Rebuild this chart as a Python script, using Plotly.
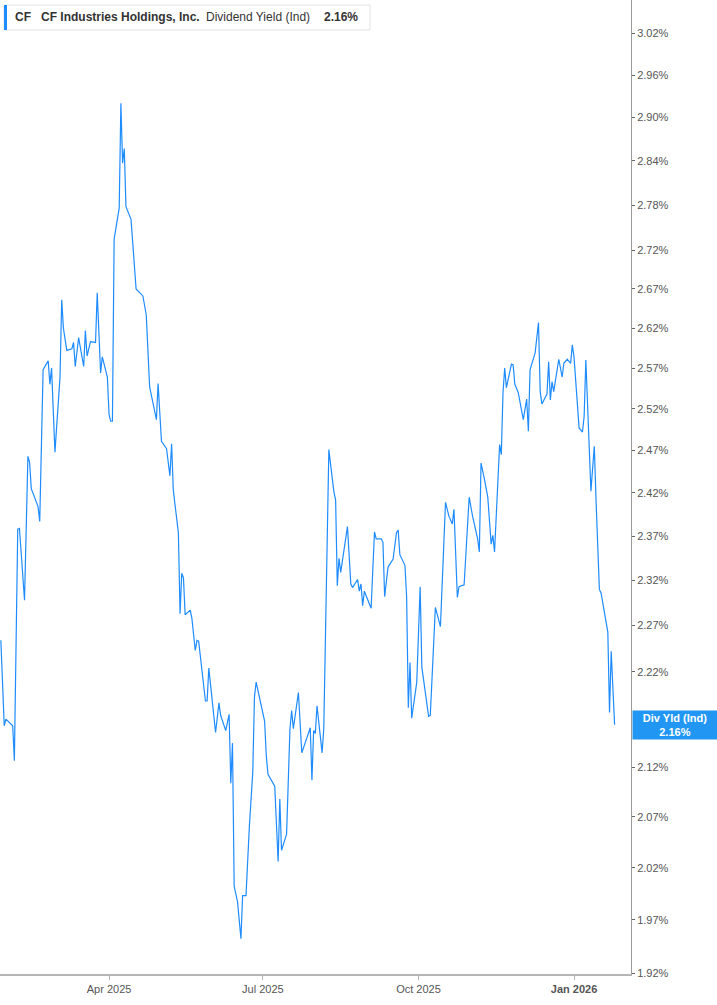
import math
import plotly.graph_objects as go

# Dividend yield (indicated) for CF Industries
dates = [
    "2025-01-27", "2025-01-29", "2025-01-30", "2025-02-03", "2025-02-04", "2025-02-06",
    "2025-02-07", "2025-02-10", "2025-02-12", "2025-02-13", "2025-02-14", "2025-02-18",
    "2025-02-19", "2025-02-21", "2025-02-24", "2025-02-25", "2025-02-26", "2025-02-28",
    "2025-03-03", "2025-03-04", "2025-03-05", "2025-03-07", "2025-03-10", "2025-03-11",
    "2025-03-12", "2025-03-14", "2025-03-17", "2025-03-18", "2025-03-19", "2025-03-21",
    "2025-03-24", "2025-03-25", "2025-03-27", "2025-03-28", "2025-03-31", "2025-04-01",
    "2025-04-02", "2025-04-03", "2025-04-04", "2025-04-07", "2025-04-08", "2025-04-09",
    "2025-04-10", "2025-04-11", "2025-04-14", "2025-04-17", "2025-04-21", "2025-04-23",
    "2025-04-25", "2025-04-29", "2025-04-30", "2025-05-02", "2025-05-05", "2025-05-07",
    "2025-05-08", "2025-05-09", "2025-05-12", "2025-05-13", "2025-05-14", "2025-05-15",
    "2025-05-16", "2025-05-19", "2025-05-20", "2025-05-22", "2025-05-23", "2025-05-24",
    "2025-05-28", "2025-05-29", "2025-05-30", "2025-06-03", "2025-06-05", "2025-06-06",
    "2025-06-09", "2025-06-11", "2025-06-12", "2025-06-13", "2025-06-14", "2025-06-16",
    "2025-06-18", "2025-06-19", "2025-06-21", "2025-06-23", "2025-06-25", "2025-06-26",
    "2025-06-27", "2025-06-30", "2025-07-02", "2025-07-03", "2025-07-04", "2025-07-08",
    "2025-07-10", "2025-07-11", "2025-07-12", "2025-07-15", "2025-07-17", "2025-07-18",
    "2025-07-19", "2025-07-22", "2025-07-24", "2025-07-29", "2025-07-30", "2025-07-31",
    "2025-08-01", "2025-08-02", "2025-08-05", "2025-08-06", "2025-08-09", "2025-08-12",
    "2025-08-13", "2025-08-14", "2025-08-15", "2025-08-16", "2025-08-20", "2025-08-22",
    "2025-08-23", "2025-08-26", "2025-08-27", "2025-08-28", "2025-08-29", "2025-08-30",
    "2025-09-03", "2025-09-05", "2025-09-06", "2025-09-09", "2025-09-10", "2025-09-11",
    "2025-09-13", "2025-09-16", "2025-09-18", "2025-09-19", "2025-09-20", "2025-09-23",
    "2025-09-24", "2025-09-25", "2025-09-26", "2025-09-27", "2025-09-30", "2025-10-02",
    "2025-10-03", "2025-10-07", "2025-10-08", "2025-10-11", "2025-10-14", "2025-10-17",
    "2025-10-19", "2025-10-21", "2025-10-22", "2025-10-24", "2025-10-25", "2025-10-28",
    "2025-10-31", "2025-11-02", "2025-11-05", "2025-11-06", "2025-11-07", "2025-11-09",
    "2025-11-11", "2025-11-13", "2025-11-14", "2025-11-15", "2025-11-18", "2025-11-19",
    "2025-11-20", "2025-11-21", "2025-11-22", "2025-11-25", "2025-11-26", "2025-11-27",
    "2025-11-29", "2025-12-02", "2025-12-04", "2025-12-05", "2025-12-06", "2025-12-09",
    "2025-12-11", "2025-12-12", "2025-12-13", "2025-12-16", "2025-12-17", "2025-12-18",
    "2025-12-19", "2025-12-20", "2025-12-23", "2025-12-25", "2025-12-26", "2025-12-28",
    "2025-12-30", "2025-12-31", "2026-01-01", "2026-01-04", "2026-01-06", "2026-01-07",
    "2026-01-08", "2026-01-11", "2026-01-13", "2026-01-14", "2026-01-16", "2026-01-17",
    "2026-01-21", "2026-01-22", "2026-01-23", "2026-01-25",
]
yield_vals = [
    2.254, 2.163, 2.170, 2.163, 2.127, 2.378,
    2.379, 2.298, 2.463, 2.456, 2.425, 2.404,
    2.387, 2.568, 2.579, 2.550, 2.570, 2.468,
    2.559, 2.656, 2.620, 2.592, 2.594, 2.602,
    2.572, 2.608, 2.572, 2.617, 2.585, 2.603,
    2.602, 2.665, 2.564, 2.584, 2.559, 2.513,
    2.505, 2.505, 2.735, 2.776, 2.920, 2.837,
    2.857, 2.778, 2.761, 2.670, 2.661, 2.637,
    2.547, 2.507, 2.551, 2.481, 2.472, 2.440,
    2.478, 2.423, 2.374, 2.283, 2.328, 2.323,
    2.282, 2.287, 2.278, 2.243, 2.254, 2.253,
    2.189, 2.189, 2.224, 2.156, 2.187, 2.174,
    2.158, 2.175, 2.104, 2.145, 2.002, 1.987,
    1.952, 1.993, 1.993, 2.061, 2.115, 2.193,
    2.209, 2.186, 2.168, 2.132, 2.113, 2.101,
    2.026, 2.088, 2.037, 2.053, 2.160, 2.179,
    2.160, 2.198, 2.135, 2.161, 2.107, 2.158,
    2.155, 2.184, 2.135, 2.160, 2.471, 2.421,
    2.412, 2.314, 2.345, 2.329, 2.381, 2.316,
    2.312, 2.321, 2.308, 2.316, 2.292, 2.308,
    2.289, 2.375, 2.367, 2.367, 2.363, 2.302,
    2.335, 2.344, 2.374, 2.377, 2.349, 2.337,
    2.302, 2.182, 2.230, 2.171, 2.209, 2.313,
    2.225, 2.173, 2.174, 2.290, 2.269, 2.409,
    2.393, 2.384, 2.401, 2.301, 2.313, 2.315,
    2.415, 2.393, 2.367, 2.352, 2.455, 2.436,
    2.415, 2.361, 2.371, 2.352, 2.477, 2.465,
    2.540, 2.570, 2.546, 2.575, 2.574, 2.550,
    2.540, 2.507, 2.532, 2.493, 2.568, 2.589,
    2.627, 2.541, 2.526, 2.538, 2.578, 2.531,
    2.553, 2.541, 2.581, 2.559, 2.576, 2.581,
    2.576, 2.599, 2.584, 2.497, 2.492, 2.511,
    2.580, 2.422, 2.475, 2.413, 2.310, 2.306,
    2.263, 2.177, 2.242, 2.164,
]

y_ticks = [1.92, 1.97, 2.02, 2.07, 2.12, 2.22, 2.27, 2.32, 2.37, 2.42, 2.47,
           2.52, 2.57, 2.62, 2.67, 2.72, 2.78, 2.84, 2.90, 2.96, 3.02]
x_ticks = ["2025-04-01", "2025-07-01", "2025-10-01", "2026-01-01"]
x_tick_labels = ["Apr 2025", "Jul 2025", "Oct 2025", "<b>Jan 2026</b>"]

LINE_BLUE = "#1e8cff"
AXIS_GREY = "#9a9a9a"
TEXT_GREY = "#555555"
FONT = "Liberation Sans, Arial, sans-serif"

W, H = 717, 1005
M_L, M_R, M_T, M_B = 0, 86, 0, 31
PW, PH = W - M_L - M_R, H - M_T - M_B

fig = go.Figure()
fig.add_trace(go.Scatter(
    x=dates, y=yield_vals, mode="lines",
    line=dict(color=LINE_BLUE, width=1.2),
    hoverinfo="skip", showlegend=False,
))

fig.update_layout(
    width=W, height=H,
    margin=dict(l=M_L, r=M_R, t=M_T, b=M_B),
    paper_bgcolor="white", plot_bgcolor="white",
    font=dict(family=FONT, color=TEXT_GREY, size=11),
    showlegend=False,
)

fig.update_xaxes(
    type="date",
    range=["2025-01-26 12:00", "2026-02-03 17:00"],
    tickvals=x_ticks, ticktext=x_tick_labels,
    tickfont=dict(size=11, color=TEXT_GREY),
    showgrid=False, zeroline=False,
    showline=True, linecolor="#b5b5b5", linewidth=1.5,
    ticks="outside", ticklen=4, tickcolor="#b5b5b5",
)

fig.update_yaxes(
    type="log", side="right",
    range=[math.log10(1.9191), math.log10(3.069)],
    tickvals=y_ticks, ticktext=[f"{v:.2f}%" for v in y_ticks],
    tickfont=dict(size=11, color=TEXT_GREY),
    showgrid=False, zeroline=False,
    showline=True, linecolor=AXIS_GREY, linewidth=1,
    ticks="outside", ticklen=3, tickcolor="#666666",
)

# header box in the top-left corner (pixel -> paper helpers)
def px(x):
    return x / PW


def py(y):
    return 1 - y / PH


fig.add_shape(type="rect", xref="paper", yref="paper",
              x0=px(4), x1=px(370), y0=py(30), y1=py(5),
              line=dict(color="#e3e3e3", width=1), fillcolor="white", layer="above")
fig.add_shape(type="rect", xref="paper", yref="paper",
              x0=px(4), x1=px(7), y0=py(30), y1=py(5),
              line=dict(width=0), fillcolor=LINE_BLUE, layer="above")

header_parts = [
    (13, "<b>CF</b>"),
    (39, "<b>CF Industries Holdings, Inc.</b>"),
    (204, "Dividend Yield (Ind)"),
    (322, f"<b>{yield_vals[-1]:.2f}%</b>"),
]
for hx, txt in header_parts:
    fig.add_annotation(xref="paper", yref="paper", x=px(hx), y=py(17),
                       xanchor="left", yanchor="middle", showarrow=False,
                       text=txt, font=dict(family=FONT, size=12, color="#333333"))

# last value label on the right axis
fig.add_annotation(
    xref="paper", yref="y", x=1, y=math.log10(yield_vals[-1]),
    xanchor="left", yanchor="middle", xshift=1, showarrow=False,
    width=84, height=28, bgcolor="#2196f3", borderpad=0,
    text=f"<b>Div Yld (Ind)</b><br><b>{yield_vals[-1]:.2f}%</b>",
    font=dict(family=FONT, size=11, color="white"), align="center",
)

# drop the browser's default page margin so the chart sits at the window edge
fig.write_html("out.html", config={"displayModeBar": False},
               post_script="document.body.style.margin='0';")
